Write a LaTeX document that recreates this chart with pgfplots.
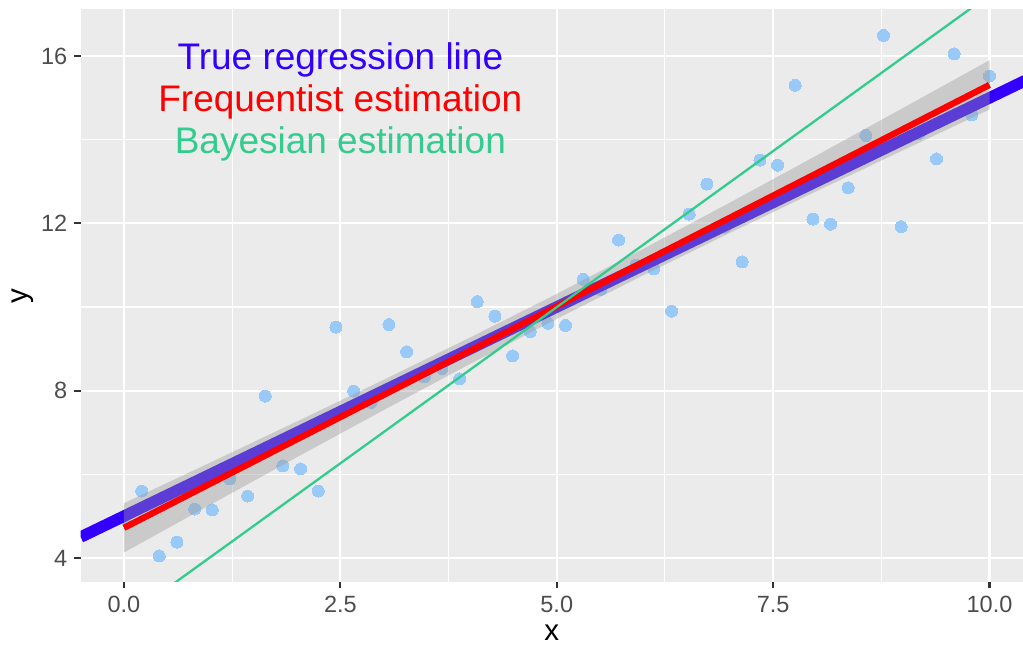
\documentclass[border=0pt]{standalone}
\usepackage{fontspec}
\setmainfont{Liberation Sans}
\usepackage{pgfplots}
\usepackage{pgfplotstable}
\pgfplotsset{compat=1.18}

\definecolor{panelbg}{HTML}{EBEBEB}
\definecolor{truecol}{HTML}{3300FF}
\definecolor{freqcol}{HTML}{FF0000}
\definecolor{bayescol}{HTML}{33CC8F}
\definecolor{ptcol}{HTML}{99C9F6}
\definecolor{bandcol}{HTML}{999999}
\definecolor{ticktext}{HTML}{4D4D4D}
\definecolor{tickmark}{HTML}{333333}

% simulated observations
\pgfplotstableread{
x y
0.0000 4.95
0.2041 5.60
0.4082 4.05
0.6122 4.38
0.8163 5.17
1.0204 5.15
1.2245 5.89
1.4286 5.48
1.6327 7.87
1.8367 6.20
2.0408 6.13
2.2449 5.60
2.4490 9.52
2.6531 7.99
2.8571 7.72
3.0612 9.58
3.2653 8.93
3.4694 8.33
3.6735 8.53
3.8776 8.28
4.0816 10.13
4.2857 9.78
4.4898 8.83
4.6939 9.41
4.8980 9.61
5.1020 9.56
5.3061 10.66
5.5102 10.42
5.7143 11.60
5.9184 11.00
6.1224 10.91
6.3265 9.90
6.5306 12.22
6.7347 12.94
6.9388 11.91
7.1429 11.08
7.3469 13.51
7.5510 13.39
7.7551 15.30
7.9592 12.10
8.1633 11.98
8.3673 12.85
8.5714 14.10
8.7755 16.49
8.9796 11.92
9.1837 14.15
9.3878 13.54
9.5918 16.05
9.7959 14.59
10.0000 15.52
}\obs

% least-squares fit with its confidence band
\pgfplotstableread{
x fit lo hi
0  4.720  4.131  5.309
1  5.779  5.274  6.284
2  6.838  6.411  7.265
3  7.897  7.535  8.259
4  8.956  8.640  9.272
5  10.015 9.716  10.314
6  11.074 10.758 11.390
7  12.133 11.771 12.495
8  13.192 12.765 13.619
9  14.251 13.746 14.756
10 15.310 14.721 15.899
}\freq

\begin{document}
\begin{tikzpicture}
\begin{axis}[
  scale only axis, width=942.3pt, height=572.4pt,
  xmin=-0.5, xmax=10.387, ymin=3.428, ymax=17.112,
  axis background/.style={fill=panelbg},
  axis line style={draw=none},
  xtick={0,2.5,5,7.5,10}, xticklabels={0.0,2.5,5.0,7.5,10.0},
  ytick={4,8,12,16}, yticklabels={4,8,12,16},
  minor xtick={1.25,3.75,6.25,8.75}, minor ytick={6,10,14},
  grid=both,
  major grid style={white, line width=2.1pt},
  minor grid style={white, line width=1.05pt},
  tick align=outside, xtick pos=bottom, ytick pos=left,
  major tick length=6.6pt, minor tick length=0pt,
  tick style={tickmark, line width=2.1pt},
  ticklabel style={font=\fontsize{23.5}{28}\selectfont, text=ticktext, inner sep=0pt},
  xticklabel style={anchor=north, yshift=-7.4pt},
  yticklabel style={anchor=east, xshift=-6.7pt},
  xlabel={x}, ylabel={y},
  label style={font=\fontsize{29.5}{34}\selectfont, text=black, inner sep=0pt},
  xlabel style={at={(axis description cs:0.5,0)}, anchor=base, yshift=-59pt},
  ylabel style={at={(axis description cs:-0.0569,0.5)}, anchor=base},
  clip=true, clip marker paths=true,
]
% observations
\addplot[only marks, mark=*, mark size=6pt, color=ptcol,
  mark options={draw=ptcol, fill=ptcol, line width=0pt}] table[x=x, y=y] {\obs};
% true line y = 5 + x
\addplot[truecol, line width=11.5pt] coordinates {(-0.5,4.5) (10.5,15.5)};
% confidence band
\addplot[fill=bandcol, fill opacity=0.4, draw=none] coordinates {
  (0,4.131) (1,5.274) (2,6.411) (3,7.535) (4,8.640) (5,9.716)
  (6,10.758) (7,11.771) (8,12.765) (9,13.746) (10,14.721)
  (10,15.899) (9,14.756) (8,13.619) (7,12.495) (6,11.390) (5,10.314)
  (4,9.272) (3,8.259) (2,7.265) (1,6.284) (0,5.309)} -- cycle;
% frequentist estimate
\addplot[freqcol, line width=6.3pt] table[x=x, y=fit] {\freq};
% Bayesian estimate
\addplot[bayescol, line width=2.3pt] coordinates {(-0.5,1.7835) (10.5,18.2065)};

\node[text=truecol, font=\fontsize{37}{41}\selectfont, yshift=-4pt] at (axis cs:2.5,16) {True regression line};
\node[text=freqcol, font=\fontsize{37}{41}\selectfont, yshift=-4pt] at (axis cs:2.5,15) {Frequentist estimation};
\node[text=bayescol, font=\fontsize{37}{41}\selectfont, yshift=-4pt] at (axis cs:2.5,14) {Bayesian estimation};
\end{axis}
\pgfresetboundingbox
\path (-80.7pt,-65.1pt) rectangle (942.3pt,581.9pt);
\end{tikzpicture}
\end{document}
